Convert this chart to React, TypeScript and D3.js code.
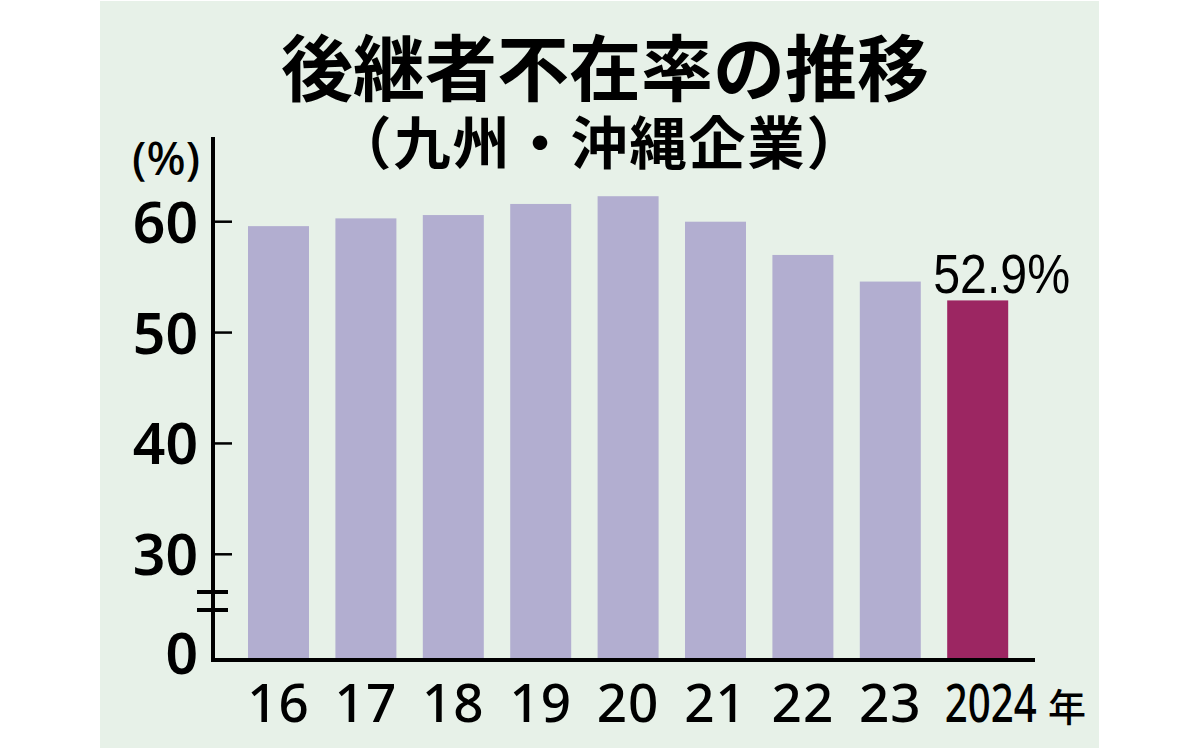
import React from "react";
import * as d3 from "d3";

const years = ["16", "17", "18", "19", "20", "21", "22", "23", "2024"];
const rates = [59.6, 60.3, 60.6, 61.6, 62.3, 60.0, 57.0, 54.6, 52.9];
const yTicks = [30, 40, 50, 60];
const title = "後継者不在率の推移";
const subtitle = "（九州・沖縄企業）";
const unitLabel = "(%)";
const yearSuffix = "年";

export default function App() {
  const W = 1200;
  const H = 751;
  const axisX = 213;
  const axisY = 660;
  const x = d3
    .scaleBand<string>()
    .domain(years)
    .range([248, 1008.2])
    .paddingInner(0.302)
    .paddingOuter(0);
  const y = d3.scaleLinear().domain([30, 60]).range([554.3, 221.7]);
  const last = years.length - 1;
  const numFont = "'Liberation Sans', Arial, sans-serif";
  const tickFont = "'Noto Sans', 'Liberation Sans', sans-serif";
  const cjk = "'Noto Sans CJK JP', sans-serif";

  return (
    <svg
      width={W}
      height={H}
      viewBox={`0 0 ${W} ${H}`}
      style={{ position: "absolute", left: 0, top: 0, background: "#ffffff" }}
    >
      <rect x={100} y={1} width={999} height={747} fill="#e7f1e8" />
      <text
        x={605}
        y={63}
        textAnchor="middle"
        dominantBaseline="central"
        fontFamily={cjk}
        fontWeight={700}
        fontSize={72}
        fill="#000"
      >
        {title}
      </text>
      <text
        x={600}
        y={139}
        textAnchor="middle"
        dominantBaseline="central"
        fontFamily={cjk}
        fontWeight={700}
        fontSize={57}
        letterSpacing={2}
        fill="#000"
      >
        {subtitle}
      </text>
      <text
        x={200}
        y={175}
        textAnchor="end"
        fontFamily={tickFont}
        fontWeight={500}
        fontSize={46}
        fill="#000"
      >
        {unitLabel}
      </text>

      {rates.map((v, i) => (
        <rect
          key={years[i]}
          x={x(years[i])}
          y={y(v)}
          width={x.bandwidth()}
          height={axisY - y(v)}
          fill={i === last ? "#9c2662" : "#b2aed0"}
        />
      ))}

      {/* y axis */}
      <line x1={axisX} x2={axisX} y1={137} y2={axisY + 2} stroke="#000" strokeWidth={4} />
      {yTicks.map((t) => (
        <g key={t}>
          <line x1={axisX} x2={232} y1={y(t)} y2={y(t)} stroke="#000" strokeWidth={2.5} />
          <text
            x={198}
            y={y(t) + 21}
            textAnchor="end"
            fontFamily={tickFont}
            fontWeight={600}
            fontSize={57}
            fill="#000"
          >
            {t}
          </text>
        </g>
      ))}
      <text
        x={198}
        y={674}
        textAnchor="end"
        fontFamily={tickFont}
        fontWeight={600}
        fontSize={57}
        fill="#000"
      >
        0
      </text>
      {/* break marks */}
      <line x1={197} x2={228} y1={592} y2={592} stroke="#000" strokeWidth={4} />
      <line x1={197} x2={228} y1={610} y2={610} stroke="#000" strokeWidth={4} />

      {/* x axis */}
      <line x1={211} x2={1035} y1={axisY} y2={axisY} stroke="#000" strokeWidth={4} />
      {years.map((yr, i) =>
        i === last ? (
          <text
            key={yr}
            x={(x(yr) as number) + x.bandwidth() / 2 + 13}
            y={722}
            textAnchor="middle"
            fontFamily={tickFont}
            fontWeight={500}
            fontSize={53}
            textLength={92}
            lengthAdjust="spacingAndGlyphs"
            fill="#000"
          >
            {yr}
          </text>
        ) : (
          <text
            key={yr}
            x={(x(yr) as number) + x.bandwidth() / 2}
            y={722}
            textAnchor="middle"
            fontFamily={tickFont}
            fontWeight={500}
            fontSize={53}
            letterSpacing={1}
            fill="#000"
          >
            {yr}
          </text>
        )
      )}
      <text
        x={1067}
        y={704}
        textAnchor="middle"
        dominantBaseline="central"
        fontFamily={cjk}
        fontWeight={500}
        fontSize={38}
        fill="#000"
      >
        {yearSuffix}
      </text>

      <text
        x={(x(years[last]) as number) + x.bandwidth() / 2 + 24}
        y={293}
        textAnchor="middle"
        fontFamily={numFont}
        fontSize={56}
        textLength={137}
        lengthAdjust="spacingAndGlyphs"
        fill="#000"
      >
        {`${rates[last].toFixed(1)}%`}
      </text>
    </svg>
  );
}
